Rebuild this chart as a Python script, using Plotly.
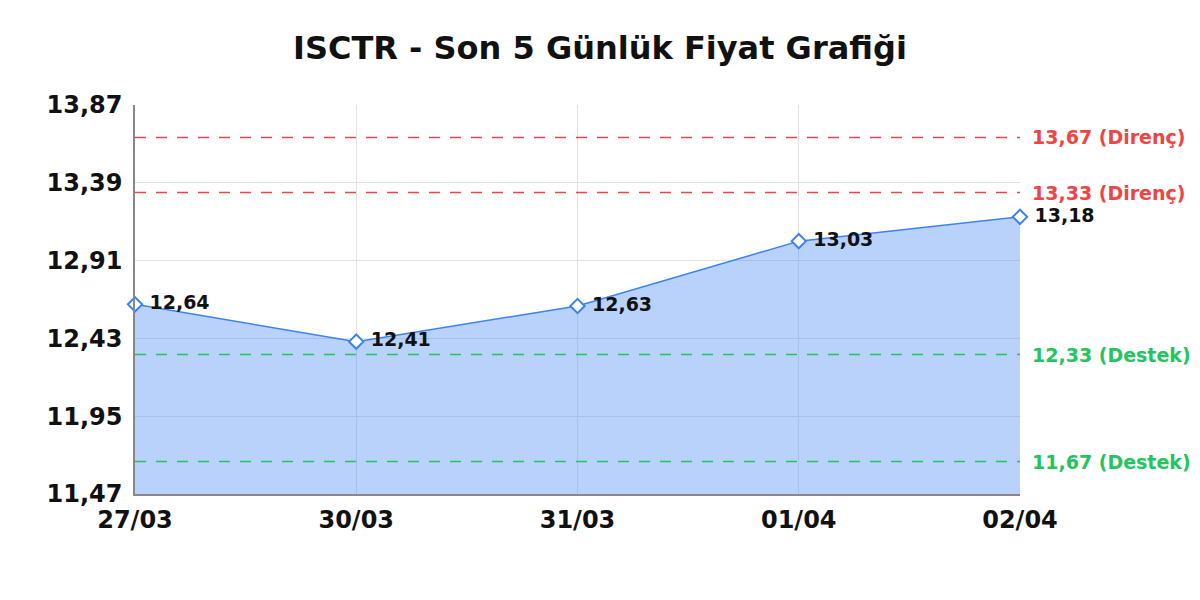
import plotly.graph_objects as go

# veriler
dates = ["27/03", "30/03", "31/03", "01/04", "02/04"]
prices = [12.64, 12.41, 12.63, 13.03, 13.18]
resistance = [13.67, 13.33]
support = [12.33, 11.67]
y_ticks = [11.47, 11.95, 12.43, 12.91, 13.39, 13.87]

blue = "#3b82f6"
red = "#ef4444"
green = "#22c55e"
font_family = "DejaVu Sans"

fig = go.Figure()
fig.add_trace(go.Scatter(
    x=dates, y=prices, mode="lines+markers+text",
    fill="tozeroy", fillcolor="rgba(59,130,246,0.36)",
    line=dict(color=blue, width=1.5),
    marker=dict(symbol="diamond", size=11, color="white", line=dict(color=blue, width=2)),
    text=[" " + f"{p:.2f}".replace(".", ",") for p in prices],
    textposition="middle right",
    textfont=dict(family=font_family, size=19, color="#111", weight="bold"),
    cliponaxis=False, showlegend=False,
))

# direnç / destek çizgileri
for val in resistance:
    fig.add_hline(y=val, line=dict(color=red, width=1.5, dash="11px,10px"))
    fig.add_annotation(x=1, xref="paper", y=val, yref="y", xanchor="left", xshift=10,
                       text=f"{val:.2f}".replace(".", ",") + " (Direnç)", showarrow=False,
                       font=dict(family=font_family, size=19, color=red, weight="bold"))
for val in support:
    fig.add_hline(y=val, line=dict(color=green, width=1.5, dash="11px,10px"))
    fig.add_annotation(x=1, xref="paper", y=val, yref="y", xanchor="left", xshift=10,
                       text=f"{val:.2f}".replace(".", ",") + " (Destek)", showarrow=False,
                       font=dict(family=font_family, size=19, color=green, weight="bold"))

fig.update_layout(
    width=1200, height=600,
    separators=",.",
    title=dict(text="ISCTR - Son 5 Günlük Fiyat Grafiği", x=0.4933, xanchor="center",
               y=0.933, yanchor="middle",
               font=dict(family=font_family, size=32, color="#111", weight="bold")),
    plot_bgcolor="white", paper_bgcolor="white",
    margin=dict(l=127, r=188, t=97, b=114),
    xaxis=dict(type="category", range=[0, 4], showgrid=True, gridcolor="#e3e3e3",
               showline=True, linecolor="#888", linewidth=1.5, ticks="",
               ticklabelstandoff=3,
               tickfont=dict(family=font_family, size=24, color="#111", weight="bold")),
    yaxis=dict(range=[11.47, 13.87], tickvals=y_ticks, tickformat=".2f",
               showgrid=True, gridcolor="#e3e3e3", zeroline=False,
               showline=True, linecolor="#888", linewidth=1.5, ticks="",
               ticklabelstandoff=6,
               tickfont=dict(family=font_family, size=24, color="#111", weight="bold")),
)

fig.write_html("out.html")
